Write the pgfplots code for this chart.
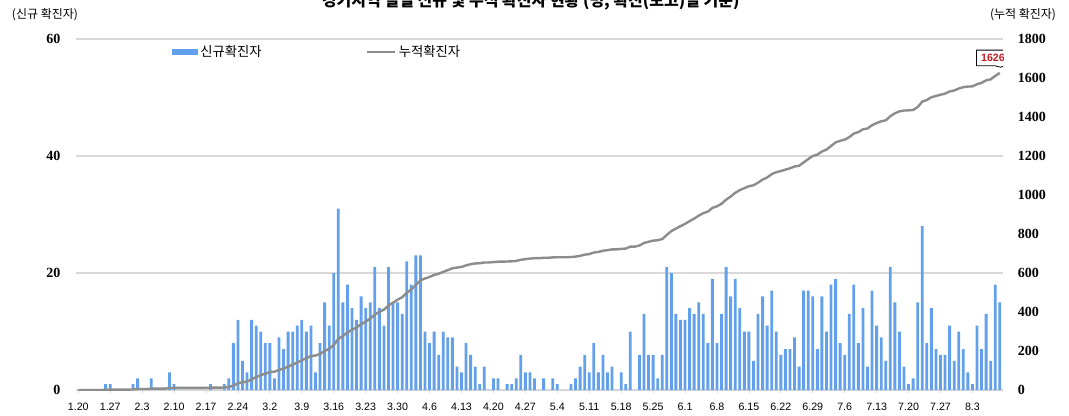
\documentclass[border=0pt]{standalone}
\usepackage{pgfplots}
\pgfplotsset{compat=1.18}
\usepackage{pgfplotstable}
\usepackage{fontspec}
\setmainfont{Liberation Sans}
\newfontfamily\kr{Noto Sans CJK KR}
\newfontfamily\numf{Liberation Serif}
\usetikzlibrary{shapes.callouts}
\definecolor{barblue}{RGB}{98,160,235}
\definecolor{linegray}{RGB}{140,140,140}
\definecolor{gridgray}{RGB}{217,217,217}
\definecolor{callred}{RGB}{200,30,40}

\pgfplotstableread{
d new cum
0 0 0
1 0 0
2 0 0
3 0 0
4 0 0
5 0 0
6 1 1
7 1 2
8 0 2
9 0 2
10 0 2
11 0 2
12 1 3
13 2 5
14 0 5
15 0 5
16 2 7
17 0 7
18 0 7
19 0 7
20 3 10
21 1 11
22 0 11
23 0 11
24 0 11
25 0 11
26 0 11
27 0 11
28 0 11
29 1 12
30 0 12
31 0 12
32 1 13
33 2 15
34 8 23
35 12 35
36 5 40
37 3 43
38 12 55
39 11 66
40 10 76
41 8 84
42 8 92
43 2 94
44 9 103
45 7 110
46 10 120
47 10 130
48 11 141
49 12 153
50 10 163
51 11 174
52 3 177
53 8 185
54 15 200
55 11 211
56 20 231
57 31 262
58 15 277
59 18 295
60 14 309
61 12 321
62 16 337
63 14 351
64 15 366
65 21 387
66 14 401
67 11 412
68 21 433
69 15 448
70 15 463
71 13 476
72 22 498
73 18 516
74 23 539
75 23 562
76 10 572
77 8 580
78 10 590
79 6 596
80 10 606
81 9 615
82 9 624
83 4 628
84 3 631
85 8 639
86 6 645
87 4 649
88 1 650
89 4 654
90 0 654
91 2 656
92 2 658
93 0 658
94 1 659
95 1 660
96 2 662
97 6 668
98 3 671
99 3 674
100 2 676
101 0 676
102 2 678
103 0 678
104 2 680
105 1 681
106 0 681
107 0 681
108 1 682
109 2 684
110 4 688
111 6 694
112 3 697
113 8 705
114 3 708
115 6 714
116 3 717
117 4 721
118 0 721
119 3 724
120 1 725
121 10 735
122 0 735
123 6 741
124 13 754
125 6 760
126 6 766
127 2 768
128 6 774
129 21 795
130 20 815
131 13 828
132 12 840
133 12 852
134 14 866
135 13 879
136 15 894
137 13 907
138 8 915
139 19 934
140 8 942
141 13 955
142 21 976
143 16 992
144 19 1011
145 14 1025
146 10 1035
147 10 1045
148 5 1050
149 13 1063
150 16 1079
151 11 1090
152 17 1107
153 10 1117
154 6 1123
155 7 1130
156 7 1137
157 9 1146
158 4 1150
159 17 1167
160 17 1184
161 16 1200
162 7 1207
163 16 1223
164 10 1233
165 18 1251
166 19 1270
167 8 1278
168 6 1284
169 13 1297
170 18 1315
171 8 1323
172 14 1337
173 4 1341
174 17 1358
175 11 1369
176 9 1378
177 5 1383
178 21 1404
179 15 1419
180 10 1429
181 4 1433
182 1 1434
183 2 1436
184 15 1451
185 28 1479
186 8 1487
187 14 1501
188 7 1508
189 6 1514
190 6 1520
191 11 1531
192 5 1536
193 10 1546
194 7 1553
195 3 1556
196 1 1557
197 11 1568
198 7 1575
199 13 1588
200 5 1593
201 18 1611
202 15 1626
}\data

\begin{document}
\begin{tikzpicture}
\useasboundingbox (0pt,0pt) rectangle (801.75pt,311.25pt);
\begin{axis}[
  at={(57pt,18.75pt)}, anchor=south west,
  scale only axis, width=695.25pt, height=263.25pt,
  xmin=-0.5, xmax=202.7, ymin=0, ymax=60,
  ytick={0,20,40,60},
  xtick={0,7,...,196},
  xticklabels={1.20,1.27,2.3,2.10,2.17,2.24,3.2,3.9,3.16,3.23,3.30,4.6,4.13,4.20,4.27,5.4,5.11,5.18,5.25,6.1,6.8,6.15,6.22,6.29,7.6,7.13,7.20,7.27,8.3},
  axis x line*=bottom, axis y line*=left,
  x axis line style={gridgray, line width=0.8pt, -},
  y axis line style={draw=none},
  ymajorgrids, grid style={gridgray, line width=0.8pt},
  ytick style={draw=none},
  xtick style={gridgray, line width=0.6pt},
  tick align=outside, major tick length=2.5pt,
  /pgf/number format/assume math mode=true,
  /pgf/number format/1000 sep={},
  xticklabel style={font=\fontsize{8}{9}\selectfont, inner sep=0pt, yshift=-7pt},
  yticklabel style={font=\numf\bfseries\fontsize{10.5}{12}\selectfont, inner sep=0pt, xshift=-9pt},
  legend style={draw=none, fill=none, at={(0.103,0.963)}, anchor=west,
    font=\kr\fontsize{10}{12}\selectfont, inner sep=0pt,
    /tikz/every even column/.append style={column sep=76pt}},
  legend columns=2,
]
\addplot[ybar, bar width=0.62, fill=barblue, draw=none,
  legend image code/.code={\fill[barblue] (0pt,-2.5pt) rectangle (19.5pt,2.5pt);}]
  table[x=d,y=new]{\data};
\addlegendentry{신규확진자}
\addlegendimage{linegray, line width=1.8pt, legend image code/.code={\draw[linegray, line width=1.8pt] (0pt,0pt) -- (21pt,0pt);}}
\addlegendentry{누적확진자}
\end{axis}
\begin{axis}[
  at={(57pt,18.75pt)}, anchor=south west,
  scale only axis, width=695.25pt, height=263.25pt,
  xmin=-0.5, xmax=202.7, ymin=0, ymax=1800,
  ytick={0,200,...,1800},
  axis x line=none, axis y line*=right,
  y axis line style={draw=none},
  ytick style={draw=none},
  /pgf/number format/assume math mode=true,
  /pgf/number format/1000 sep={},
  yticklabel style={font=\numf\bfseries\fontsize{10.5}{12}\selectfont, inner sep=0pt, xshift=11pt},
]
\addplot[linegray, line width=1.8pt, mark=none] table[x=d,y=cum]{\data};
\node[rectangle callout, draw=black, fill=white, line width=0.6pt,
  callout absolute pointer={(axis cs:202.2,1655)},
  text=callred, font=\bfseries\fontsize{8}{9}\selectfont,
  inner xsep=3.5pt, inner ysep=3pt] at (axis cs:200.5,1703) {1626};
\end{axis}
\node[font=\kr\fontsize{9}{10}\selectfont] at (33.75pt,300pt) {(신규 확진자)};
\node[font=\kr\fontsize{9}{10}\selectfont] at (767.25pt,300pt) {(누적 확진자)};
\node[font=\kr\bfseries\fontsize{12}{14}\selectfont, anchor=base] at (398pt,306pt) {경기지역 일별 신규 및 누적 확진자 현황 (명, 확진(보고)일 기준)};
\end{tikzpicture}
\end{document}
